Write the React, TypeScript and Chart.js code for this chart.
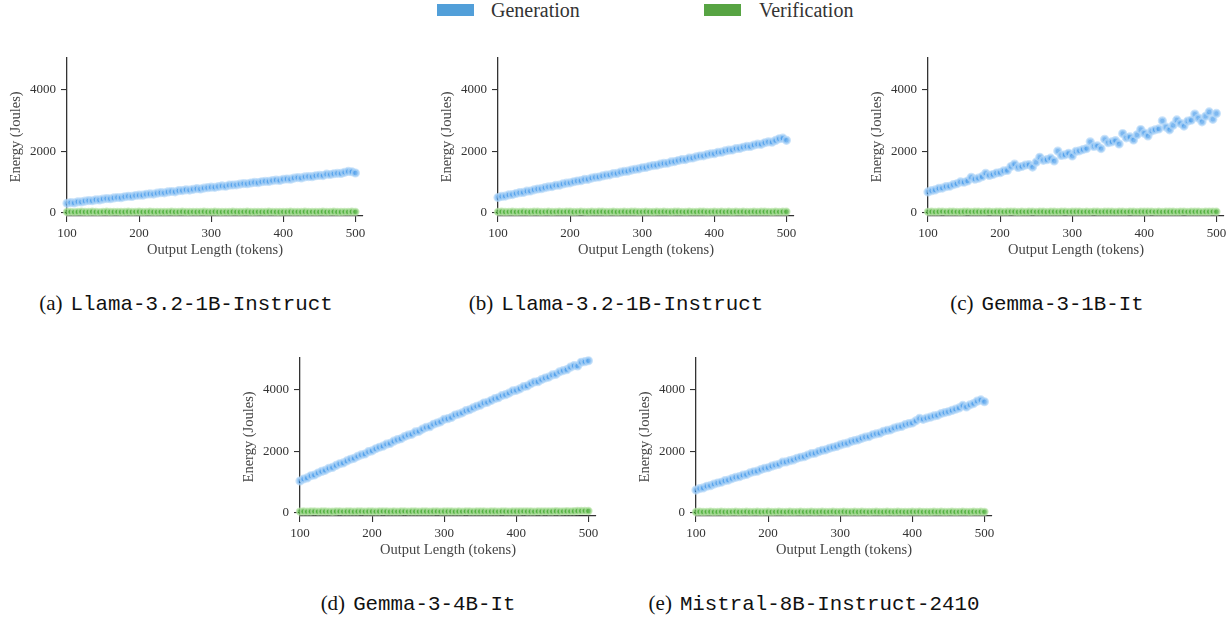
import React, { useEffect, useRef } from "react";
import { Chart, registerables } from "chart.js";

Chart.register(...registerables);

// ---------- data ----------
const OUTPUT_LENGTHS = [
  100, 105, 110, 115, 120, 125, 130, 135, 140, 145, 150, 155, 160, 165, 170, 175, 180, 185, 190, 195,
  200, 205, 210, 215, 220, 225, 230, 235, 240, 245, 250, 255, 260, 265, 270, 275, 280, 285, 290, 295,
  300, 305, 310, 315, 320, 325, 330, 335, 340, 345, 350, 355, 360, 365, 370, 375, 380, 385, 390, 395,
  400, 405, 410, 415, 420, 425, 430, 435, 440, 445, 450, 455, 460, 465, 470, 475, 480, 485, 490, 495,
  500,
];

const X_TICKS = [100, 200, 300, 400, 500];
const Y_TICKS = [0, 2000, 4000];

// (a) Llama-3.2-1B-Instruct
const GEN_A = [
  305, 330, 320, 355, 350, 380, 395, 390, 420, 415, 445, 460, 455, 480, 495, 490, 520, 535, 530, 560,
  570, 570, 600, 610, 605, 635, 650, 645, 675, 690, 680, 715, 720, 745, 735, 760, 780, 770, 800, 815,
  830, 825, 850, 870, 860, 895, 900, 905, 930, 945, 940, 965, 985, 975, 1005, 1020, 1015, 1045, 1060, 1050,
  1085, 1095, 1090, 1125, 1140, 1130, 1165, 1175, 1170, 1200, 1215, 1205, 1250, 1240, 1265, 1280, 1275, 1310, 1340, 1330,
  1290,
];
const VER_A = [
  25, 30, 22, 28, 35, 24, 27, 31, 26, 22, 29, 33, 25, 28, 30, 24, 27, 32, 26, 29,
  31, 25, 28, 34, 27, 23, 30, 26, 29, 33, 25, 28, 31, 24, 27, 30, 26, 29, 32, 25,
  28, 31, 27, 24, 30, 26, 33, 28, 25, 29, 31, 27, 24, 30, 28, 26, 32, 29, 25, 27,
  30, 28, 33, 26, 29, 24, 31, 27, 30, 25, 28, 32, 26, 29, 31, 27, 24, 30, 28, 33,
  29,
];

// (b) Llama-3.2-1B-Instruct
const GEN_B = [
  495, 530, 540, 580, 590, 625, 650, 660, 700, 705, 745, 770, 780, 815, 840, 850, 890, 895, 935, 960,
  970, 1005, 1030, 1040, 1080, 1085, 1125, 1150, 1160, 1195, 1220, 1230, 1270, 1275, 1315, 1340, 1350, 1385, 1410, 1420,
  1460, 1470, 1505, 1530, 1540, 1575, 1600, 1605, 1650, 1660, 1695, 1720, 1725, 1770, 1775, 1815, 1840, 1845, 1885, 1910,
  1915, 1960, 1965, 2005, 2030, 2035, 2080, 2085, 2125, 2150, 2150, 2195, 2225, 2220, 2270, 2300, 2290, 2345, 2400, 2420,
  2350,
];
const VER_B = [
  28, 32, 26, 30, 35, 27, 29, 33, 28, 25, 31, 34, 27, 30, 32, 26, 29, 34, 28, 31,
  33, 27, 30, 36, 29, 25, 32, 28, 31, 35, 27, 30, 33, 26, 29, 32, 28, 31, 34, 27,
  30, 33, 29, 26, 32, 28, 35, 30, 27, 31, 33, 29, 26, 32, 30, 28, 34, 31, 27, 29,
  32, 30, 35, 28, 31, 26, 33, 29, 32, 27, 30, 34, 28, 31, 33, 29, 26, 32, 30, 35,
  31,
];

// (c) Gemma-3-1B-It
const GEN_C = [
  675, 715, 740, 790, 800, 850, 860, 910, 940, 1000, 990, 1030, 1150, 1090, 1120, 1170, 1280, 1210, 1240, 1290,
  1300, 1360, 1370, 1500, 1580, 1470, 1500, 1545, 1560, 1480, 1640, 1800, 1700, 1720, 1770, 1680, 2000, 1860, 1880, 1930,
  1840, 1990, 2010, 2050, 2080, 2300, 2150, 2170, 2080, 2380, 2270, 2300, 2340, 2230, 2570, 2430, 2460, 2360, 2530, 2700,
  2580, 2490, 2650, 2690, 2720, 2980, 2780, 2690, 2840, 3010, 2900, 2810, 2970, 3000, 3200, 3070, 2950, 3130, 3270, 3030,
  3220,
];
const VER_C = [
  30, 34, 28, 32, 37, 29, 31, 35, 30, 27, 33, 36, 29, 32, 34, 28, 31, 36, 30, 33,
  35, 29, 32, 38, 31, 27, 34, 30, 33, 37, 29, 32, 35, 28, 31, 34, 30, 33, 36, 29,
  32, 35, 31, 28, 34, 30, 37, 32, 29, 33, 35, 31, 28, 34, 32, 30, 36, 33, 29, 31,
  34, 32, 37, 30, 33, 28, 35, 31, 34, 29, 32, 36, 30, 33, 35, 31, 28, 34, 32, 37,
  33,
];

// (d) Gemma-3-4B-It
const GEN_D = [
  1030, 1095, 1130, 1200, 1225, 1290, 1340, 1375, 1440, 1470, 1535, 1590, 1615, 1680, 1735, 1765, 1830, 1880, 1905, 1980,
  2010, 2075, 2125, 2160, 2225, 2250, 2320, 2370, 2400, 2470, 2520, 2545, 2620, 2640, 2715, 2770, 2790, 2870, 2910, 2950,
  3030, 3050, 3090, 3170, 3200, 3240, 3310, 3340, 3400, 3450, 3490, 3560, 3580, 3640, 3700, 3730, 3800, 3830, 3880, 3950,
  3970, 4020, 4090, 4110, 4180, 4240, 4250, 4320, 4370, 4400, 4470, 4490, 4570, 4610, 4640, 4720, 4770, 4760, 4880, 4900,
  4930,
];
const VER_D = [
  38, 42, 36, 40, 44, 37, 39, 43, 38, 35, 41, 44, 37, 40, 42, 36, 39, 44, 38, 41,
  43, 37, 40, 45, 39, 36, 42, 38, 41, 45, 37, 40, 43, 37, 39, 42, 38, 41, 44, 37,
  40, 43, 39, 36, 42, 38, 45, 40, 37, 41, 43, 39, 37, 42, 40, 38, 44, 41, 38, 40,
  43, 41, 46, 39, 42, 38, 45, 42, 44, 40, 43, 47, 42, 45, 48, 46, 50, 55, 60, 62,
  58,
];

// (e) Mistral-8B-Instruct-2410
const GEN_E = [
  735, 785, 805, 860, 880, 930, 965, 990, 1040, 1060, 1110, 1150, 1170, 1220, 1240, 1295, 1330, 1350, 1400, 1440,
  1460, 1510, 1545, 1570, 1640, 1650, 1690, 1715, 1765, 1800, 1820, 1870, 1915, 1930, 1980, 2020, 2040, 2090, 2125, 2150,
  2200, 2235, 2255, 2310, 2340, 2365, 2415, 2455, 2470, 2530, 2560, 2580, 2640, 2670, 2690, 2745, 2780, 2800, 2855, 2890,
  2910, 2980, 3060, 3030, 3070, 3100, 3140, 3160, 3215, 3250, 3275, 3320, 3360, 3400, 3480, 3430, 3500, 3540, 3620, 3660,
  3600,
];
const VER_E = [
  27, 31, 25, 29, 34, 26, 28, 32, 27, 24, 30, 33, 26, 29, 31, 25, 28, 33, 27, 30,
  32, 26, 29, 35, 28, 24, 31, 27, 30, 34, 26, 29, 32, 25, 28, 31, 27, 30, 33, 26,
  29, 32, 28, 25, 31, 27, 34, 29, 26, 30, 32, 28, 25, 31, 29, 27, 33, 30, 26, 28,
  31, 29, 34, 27, 30, 25, 32, 28, 31, 26, 29, 33, 27, 30, 32, 28, 25, 31, 29, 34,
  30,
];

const PANEL_LETTERS = ["(a)", "(b)", "(c)", "(d)", "(e)"];
const PANEL_MODELS = [
  "Llama-3.2-1B-Instruct",
  "Llama-3.2-1B-Instruct",
  "Gemma-3-1B-It",
  "Gemma-3-4B-It",
  "Mistral-8B-Instruct-2410",
];
const SERIES_NAMES = ["Generation", "Verification"];
const X_TITLE = "Output Length (tokens)";
const Y_TITLE = "Energy (Joules)";

// ---------- style / layout ----------
const SERIF = "'Liberation Serif', 'DejaVu Serif', serif";
const MONO = "'Liberation Mono', 'DejaVu Sans Mono', monospace";
const LEGEND_BLUE = "#529fd9";
const LEGEND_GREEN = "#57a443";

const AREA_W = 296;
const AREA_H = 161;
const Y_AXIS_W = 60;
const X_AXIS_H = 43;
const PAD_TOP = 10;
const PAD_RIGHT = 20;

type PanelSpec = {
  axisLeft: number;
  axisTop: number;
  gen: number[];
  ver: number[];
  captionCx: number;
  captionTop: number;
};

const PANELS: PanelSpec[] = [
  { axisLeft: 67, axisTop: 55, gen: GEN_A, ver: VER_A, captionCx: 186, captionTop: 290 },
  { axisLeft: 497.5, axisTop: 55, gen: GEN_B, ver: VER_B, captionCx: 616, captionTop: 290 },
  { axisLeft: 927.5, axisTop: 55, gen: GEN_C, ver: VER_C, captionCx: 1047, captionTop: 290 },
  { axisLeft: 299.5, axisTop: 355, gen: GEN_D, ver: VER_D, captionCx: 418, captionTop: 590 },
  { axisLeft: 695.5, axisTop: 355, gen: GEN_E, ver: VER_E, captionCx: 814, captionTop: 590 },
];

function Panel({ spec }: { spec: PanelSpec }) {
  const ref = useRef<HTMLCanvasElement | null>(null);
  const width = Y_AXIS_W + AREA_W + PAD_RIGHT;
  const height = PAD_TOP + AREA_H + X_AXIS_H;

  useEffect(() => {
    if (!ref.current) return;
    const tickFont = { family: SERIF, size: 13 };
    const titleFont = { family: SERIF, size: 14.5 };
    const chart = new Chart(ref.current, {
      type: "scatter",
      data: {
        datasets: [
          {
            label: SERIES_NAMES[0],
            data: OUTPUT_LENGTHS.map((x, i) => ({ x, y: spec.gen[i] })),
            backgroundColor: "rgba(45,140,230,0.62)",
            borderColor: "rgba(180,215,248,0.7)",
            borderWidth: 2.4,
            pointRadius: 3.4,
            clip: false as any,
          },
          {
            label: SERIES_NAMES[1],
            data: OUTPUT_LENGTHS.map((x, i) => ({ x, y: spec.ver[i] })),
            backgroundColor: "rgba(60,165,40,0.72)",
            borderColor: "rgba(185,228,170,0.7)",
            borderWidth: 2,
            pointRadius: 3.2,
            clip: false as any,
          },
        ],
      },
      options: {
        animation: false,
        responsive: false,
        events: [],
        layout: { padding: { left: 0, top: PAD_TOP, right: PAD_RIGHT, bottom: 0 } },
        plugins: { legend: { display: false }, tooltip: { enabled: false } },
        scales: {
          x: {
            type: "linear",
            min: 100,
            max: 510.5,
            afterBuildTicks: (s: any) => {
              s.ticks = X_TICKS.map((v) => ({ value: v }));
            },
            afterFit: (s: any) => {
              s.height = X_AXIS_H;
            },
            grid: { drawOnChartArea: false, drawTicks: true, tickLength: 6, color: "#333", lineWidth: 1.1 },
            border: { display: true, color: "#333", width: 1.3 },
            ticks: {
              font: tickFont,
              color: "#333",
              padding: 4,
              maxRotation: 0,
              autoSkip: false,
              callback: (v: any) => String(v),
            },
            title: { display: true, text: X_TITLE, font: titleFont, color: "#444", padding: 0 },
          },
          y: {
            type: "linear",
            min: -105,
            max: 5025,
            afterBuildTicks: (s: any) => {
              s.ticks = Y_TICKS.map((v) => ({ value: v }));
            },
            afterFit: (s: any) => {
              s.width = Y_AXIS_W;
            },
            grid: { drawOnChartArea: false, drawTicks: true, tickLength: 6, color: "#333", lineWidth: 1.1 },
            border: { display: true, color: "#333", width: 1.3 },
            ticks: {
              font: tickFont,
              color: "#333",
              padding: 5,
              autoSkip: false,
              callback: (v: any) => String(v),
            },
            title: { display: true, text: Y_TITLE, font: titleFont, color: "#444", padding: 0 },
          },
        },
      },
    } as any);
    return () => chart.destroy();
  }, [spec]);

  return (
    <canvas
      ref={ref}
      width={width}
      height={height}
      style={{
        position: "absolute",
        left: spec.axisLeft - Y_AXIS_W,
        top: spec.axisTop - PAD_TOP,
        width,
        height,
      }}
    />
  );
}

export default function App() {
  return (
    <div style={{ position: "absolute", left: 0, top: 0, width: 1231, height: 617, background: "#fff", overflow: "hidden" }}>
      {/* legend */}
      <div style={{ position: "absolute", left: 437, top: 4, width: 37, height: 12, background: LEGEND_BLUE }} />
      <div style={{ position: "absolute", left: 491, top: 0, fontFamily: SERIF, fontSize: 20, lineHeight: "20px", color: "#333", whiteSpace: "nowrap" }}>
        {SERIES_NAMES[0]}
      </div>
      <div style={{ position: "absolute", left: 704, top: 4, width: 37, height: 12, background: LEGEND_GREEN }} />
      <div style={{ position: "absolute", left: 759, top: 0, fontFamily: SERIF, fontSize: 20, lineHeight: "20px", color: "#333", whiteSpace: "nowrap" }}>
        {SERIES_NAMES[1]}
      </div>

      {PANELS.map((p, i) => (
        <Panel key={i} spec={p} />
      ))}

      {PANELS.map((p, i) => (
        <div
          key={"cap" + i}
          style={{
            position: "absolute",
            left: p.captionCx - 250,
            width: 500,
            top: p.captionTop,
            textAlign: "center",
            lineHeight: "26px",
            color: "#111",
            whiteSpace: "nowrap",
          }}
        >
          <span style={{ fontFamily: SERIF, fontSize: 21, marginRight: 8 }}>{PANEL_LETTERS[i]}</span>
          <span style={{ fontFamily: MONO, fontSize: 20.8 }}>{PANEL_MODELS[i]}</span>
        </div>
      ))}
    </div>
  );
}
